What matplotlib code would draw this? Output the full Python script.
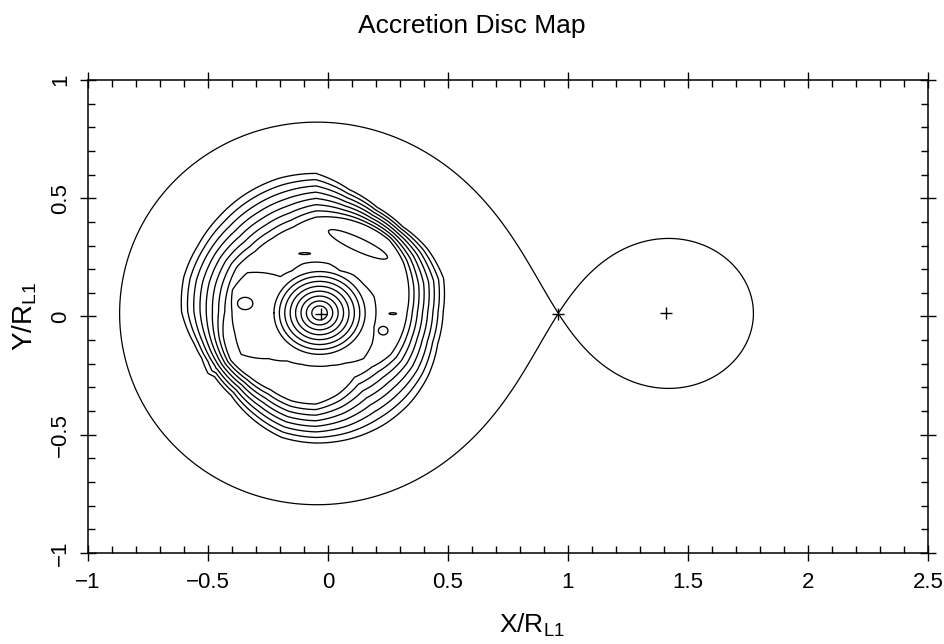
import numpy as np
import matplotlib
matplotlib.use("Agg")
import matplotlib.pyplot as plt
from matplotlib.ticker import MultipleLocator

plt.rcParams["font.family"] = ["Liberation Sans", "DejaVu Sans"]
plt.rcParams["mathtext.default"] = "regular"
plt.rcParams["mathtext.fontset"] = "custom"
plt.rcParams["mathtext.rm"] = "Liberation Sans"
plt.rcParams["mathtext.it"] = "Liberation Sans"

# ---- binary geometry (units of R_L1) ----
mass_ratio = 0.144              # M2 / M1
primary_x = -0.03
secondary_x = 1.41
centre_line_y = 0.013
marker_x = [-0.03, 0.96, 1.41]  # primary, L1, secondary
marker_y = [0.012, 0.012, 0.015]

# ---- disc map structure (polar tables about the disc centre) ----
disc_centre = (-0.05, 0.02)
edge_angles_deg = list(range(0, 360, 15))
outer_edge_r = [0.53, 0.55, 0.535, 0.51, 0.51, 0.535, 0.585, 0.585,
                0.578, 0.57, 0.566, 0.57, 0.56, 0.525, 0.505, 0.50,
                0.525, 0.55, 0.555, 0.556, 0.555, 0.55, 0.54, 0.525]
band_inner_r = [0.38, 0.40, 0.42, 0.43, 0.42, 0.41, 0.40, 0.37,
                0.36, 0.36, 0.38, 0.38, 0.38, 0.40, 0.41, 0.39,
                0.38, 0.39, 0.39, 0.36, 0.32, 0.33, 0.36, 0.37]
plateau_r = [0.25, 0.25, 0.23, 0.22, 0.20, 0.21, 0.21, 0.21,
             0.20, 0.21, 0.33, 0.36, 0.35, 0.35, 0.36, 0.28,
             0.24, 0.23, 0.23, 0.235, 0.25, 0.28, 0.27, 0.25]

# central peak
peak_centre = (-0.035, 0.015)
peak_rx, peak_ry = 0.19, 0.175
peak_inner = 0.17

# isolated features: x, y, semi-major, semi-minor, angle (deg), level
island_x = [0.125, -0.097, 0.27, 0.23, -0.345]
island_y = [0.305, 0.266, 0.012, -0.06, 0.055]
island_a = [0.135, 0.025, 0.016, 0.02, 0.032]
island_b = [0.028, 0.004, 0.004, 0.018, 0.026]
island_ang = [-25, 0, 0, 0, 0]
island_level = [9, 9, 9, 9, 10]

contour_levels = list(range(1, 18))

# ---- figure ----
fig = plt.figure(figsize=(9.44, 6.44), dpi=100)
ax = fig.add_axes([0.0932, 0.1413, 0.8898, 0.7345])

# Roche lobes from the restricted three-body potential
a_sep = secondary_x - primary_x
mu = mass_ratio / (1 + mass_ratio)
lo, hi = 0.05, 0.95
for _ in range(80):
    mid = 0.5 * (lo + hi)
    f = (1 - mu) / mid**2 - mu / (1 - mid)**2 - (mid - mu)
    if f > 0:
        lo = mid
    else:
        hi = mid
xl1 = 0.5 * (lo + hi)


def roche_pot(X, Y):
    r1 = np.hypot(X, Y)
    r2 = np.hypot(X - 1, Y)
    return -(1 - mu) / r1 - mu / r2 - 0.5 * ((X - mu) ** 2 + Y ** 2)


phi_l1 = roche_pot(xl1, 0.0)
gx, gy = np.meshgrid(np.linspace(-1, 1.95, 1476), np.linspace(-1, 1, 1001))
PHI = roche_pot((gx - primary_x) / a_sep, (gy - centre_line_y) / a_sep)
ax.contour(gx, gy, PHI, levels=[phi_l1 + 1e-5], colors="black",
           linewidths=0.9, linestyles="solid")

# disc intensity map
xx, yy = np.meshgrid(np.linspace(-0.75, 0.65, 561), np.linspace(-0.7, 0.75, 581))
dx = xx - disc_centre[0]
dy = yy - disc_centre[1]
r = np.hypot(dx, dy)
th = np.degrees(np.arctan2(dy, dx)) % 360
ang_closed = np.r_[edge_angles_deg, 360]


def table(vals):
    return np.interp(th, ang_closed, np.r_[vals, vals[0]])


Ro = table(outer_edge_r)
R8 = table(band_inner_r)
R9 = table(plateau_r)
s = (Ro - r) / (Ro - R8)
field = np.minimum(1 + 7 * s, 8.5)
field = np.maximum(field, np.minimum(9 + (R9 - r) * 50, 9.5))
rho = np.hypot((xx - peak_centre[0]) / peak_rx, (yy - peak_centre[1]) / peak_ry)
field = np.maximum(field, 10 + 7 * (1 - rho) / (1 - peak_inner))
for cx, cy, ea, eb, ang, lev in zip(island_x, island_y, island_a, island_b,
                                    island_ang, island_level):
    c, sn = np.cos(np.radians(ang)), np.sin(np.radians(ang))
    u = (xx - cx) * c + (yy - cy) * sn
    v = -(xx - cx) * sn + (yy - cy) * c
    e = (u / ea) ** 2 + (v / eb) ** 2
    bump = np.where(e < 2, lev + 0.5 * (1 - e), -np.inf)
    field = np.maximum(field, bump)

ax.contour(xx, yy, field, levels=contour_levels, colors="black",
           linewidths=0.95, linestyles="solid")

ax.plot(marker_x, marker_y, linestyle="none", marker="+", color="black",
        markersize=8, markeredgewidth=1.0)

ax.set_xlim(-1, 2.5)
ax.set_ylim(-1, 1)
ax.xaxis.set_major_locator(MultipleLocator(0.5))
ax.xaxis.set_minor_locator(MultipleLocator(0.1))
ax.yaxis.set_major_locator(MultipleLocator(0.5))
ax.yaxis.set_minor_locator(MultipleLocator(0.1))
fmt = plt.FuncFormatter(lambda v, p: f"{v:g}".replace("-", "\u2212"))
ax.xaxis.set_major_formatter(fmt)
ax.yaxis.set_major_formatter(fmt)
ax.tick_params(which="major", direction="inout", length=12, width=1.0,
               top=True, right=True, pad=8, labelsize=16)
ax.tick_params(which="minor", direction="in", length=5, width=1.0,
               top=True, right=True)
ax.tick_params(axis="y", which="major", labelrotation=90, pad=6)
for lab in ax.get_yticklabels():
    lab.set_va("center")
for sp in ax.spines.values():
    sp.set_linewidth(1.1)

fig.text(0.5, 1 - 33 / 644, "Accretion Disc Map", fontsize=19,
         ha="center", va="baseline")
ax.set_xlabel("X/R$_{L1}$", fontsize=19)
ax.xaxis.set_label_coords(0.528, -0.125)
ax.set_ylabel("Y/R$_{L1}$", fontsize=20, labelpad=8)

fig.savefig("out.png", dpi=100)
